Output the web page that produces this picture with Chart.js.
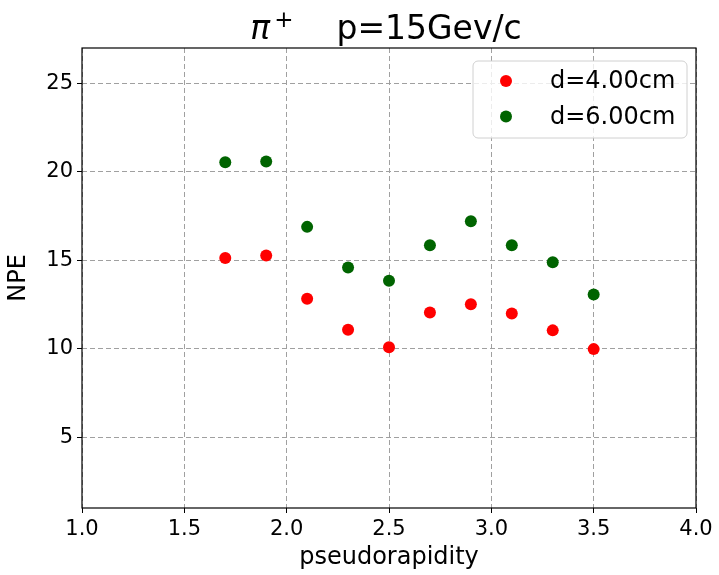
<!DOCTYPE html>
<html>
<head>
<meta charset="utf-8">
<script src="https://cdn.jsdelivr.net/npm/chart.js@4"></script>
<style>
  html, body { margin: 0; padding: 0; background: #fff; }
  #wrap { width: 719px; height: 575px; }
</style>
</head>
<body>
<div id="wrap"><canvas id="chart" width="719" height="575"></canvas></div>
<script>
// data
const pseudorapidity = [1.7, 1.9, 2.1, 2.3, 2.5, 2.7, 2.9, 3.1, 3.3, 3.5];
const npe4cm = [15.13, 15.27, 12.83, 11.07, 10.09, 12.05, 12.52, 12.0, 11.04, 9.98];
const npe6cm = [20.54, 20.58, 16.89, 14.6, 13.85, 15.85, 17.21, 15.85, 14.89, 13.07];
const seriesLabels = ["d=4.00cm", "d=6.00cm"];
const xTicks = [1.0, 1.5, 2.0, 2.5, 3.0, 3.5, 4.0];
const yTicks = [5, 10, 15, 20, 25];

const FONT = "'DejaVu Sans', sans-serif";

function toPoints(xs, ys) {
  return xs.map((x, i) => ({ x: x, y: ys[i] }));
}

// title with math-style pi^+
const titlePlugin = {
  id: "mplTitle",
  afterDraw(chart) {
    const ctx = chart.ctx;
    const area = chart.chartArea;
    const base = 39;
    ctx.save();
    ctx.fillStyle = "#000";
    ctx.textBaseline = "alphabetic";
    ctx.font = "italic 33px " + FONT;
    const wPi = ctx.measureText("π").width;
    ctx.font = "23px " + FONT;
    const wPlus = ctx.measureText("+").width;
    ctx.font = "33px " + FONT;
    const rest = "p=15Gev/c";
    const wRest = ctx.measureText(rest).width;
    const gap = 43;
    const total = wPi + 4 + wPlus + gap + wRest;
    let x = (area.left + area.right) / 2 - 3 - total / 2;
    ctx.font = "italic 33px " + FONT;
    ctx.fillText("π", x, base);
    x += wPi + 4;
    ctx.font = "23px " + FONT;
    ctx.fillText("+", x, base - 12);
    x += wPlus + gap;
    ctx.font = "33px " + FONT;
    ctx.fillText(rest, x, base);
    ctx.restore();
  },
};

// axes frame on all four sides
const framePlugin = {
  id: "frame",
  afterDatasetsDraw(chart) {
    const { ctx, chartArea: a } = chart;
    ctx.save();
    ctx.strokeStyle = "#000";
    ctx.lineWidth = 1.2;
    ctx.strokeRect(a.left, a.top, a.right - a.left, a.bottom - a.top);
    ctx.restore();
  },
};

// legend box in the upper right of the plot
const legendPlugin = {
  id: "boxLegend",
  afterDraw(chart) {
    const { ctx, chartArea: a } = chart;
    const w = 214, h = 77;
    const left = a.right - 9 - w;
    const top = a.top + 13;
    ctx.save();
    ctx.beginPath();
    ctx.roundRect(left, top, w, h, 5);
    ctx.fillStyle = "rgba(255,255,255,0.8)";
    ctx.fill();
    ctx.strokeStyle = "#d0d0d0";
    ctx.lineWidth = 1;
    ctx.stroke();
    ctx.font = "24px " + FONT;
    ctx.textBaseline = "middle";
    chart.data.datasets.forEach((ds, i) => {
      const cy = top + 20 + i * 35.5;
      ctx.beginPath();
      ctx.arc(left + 33, cy, 6, 0, Math.PI * 2);
      ctx.fillStyle = ds.backgroundColor;
      ctx.fill();
      ctx.fillStyle = "#000";
      ctx.fillText(ds.label, left + 77, cy + 1);
    });
    ctx.restore();
  },
};

const gridOpts = {
  color: "#a0a0a0",
  lineWidth: 1,
  tickLength: 5,
  tickColor: "#000",
  tickWidth: 1,
  tickBorderDash: [],
};

new Chart(document.getElementById("chart"), {
  type: "scatter",
  data: {
    datasets: [
      {
        label: seriesLabels[0],
        data: toPoints(pseudorapidity, npe4cm),
        backgroundColor: "#ff0000",
        borderWidth: 0,
        pointRadius: 6,
      },
      {
        label: seriesLabels[1],
        data: toPoints(pseudorapidity, npe6cm),
        backgroundColor: "#006400",
        borderWidth: 0,
        pointRadius: 6,
      },
    ],
  },
  options: {
    responsive: false,
    animation: false,
    layout: { padding: { left: 0, right: 23, top: 48, bottom: 0 } },
    plugins: {
      legend: { display: false },
      title: { display: false },
      tooltip: { enabled: false },
    },
    scales: {
      x: {
        type: "linear",
        min: 1,
        max: 4,
        afterBuildTicks: (s) => { s.ticks = xTicks.map((v) => ({ value: v })); },
        afterFit: (s) => { s.height = 67; },
        grid: gridOpts,
        border: { display: false, dash: [5, 3] },
        ticks: {
          color: "#000",
          padding: 4,
          maxRotation: 0,
          font: { family: FONT, size: 21 },
          callback: (v) => Number(v).toFixed(1),
        },
        title: {
          display: true,
          text: "pseudorapidity",
          color: "#000",
          font: { family: FONT, size: 24 },
          padding: { top: 0, bottom: 3 },
        },
      },
      y: {
        type: "linear",
        min: 1,
        max: 27,
        afterBuildTicks: (s) => { s.ticks = yTicks.map((v) => ({ value: v })); },
        afterFit: (s) => { s.width = 82; },
        grid: gridOpts,
        border: { display: false, dash: [5, 3] },
        ticks: {
          color: "#000",
          padding: 4,
          font: { family: FONT, size: 21 },
        },
        title: {
          display: true,
          text: "NPE",
          color: "#000",
          font: { family: FONT, size: 24 },
          padding: { top: 4, bottom: 0 },
        },
      },
    },
  },
  plugins: [framePlugin, legendPlugin, titlePlugin],
});
</script>
</body>
</html>
